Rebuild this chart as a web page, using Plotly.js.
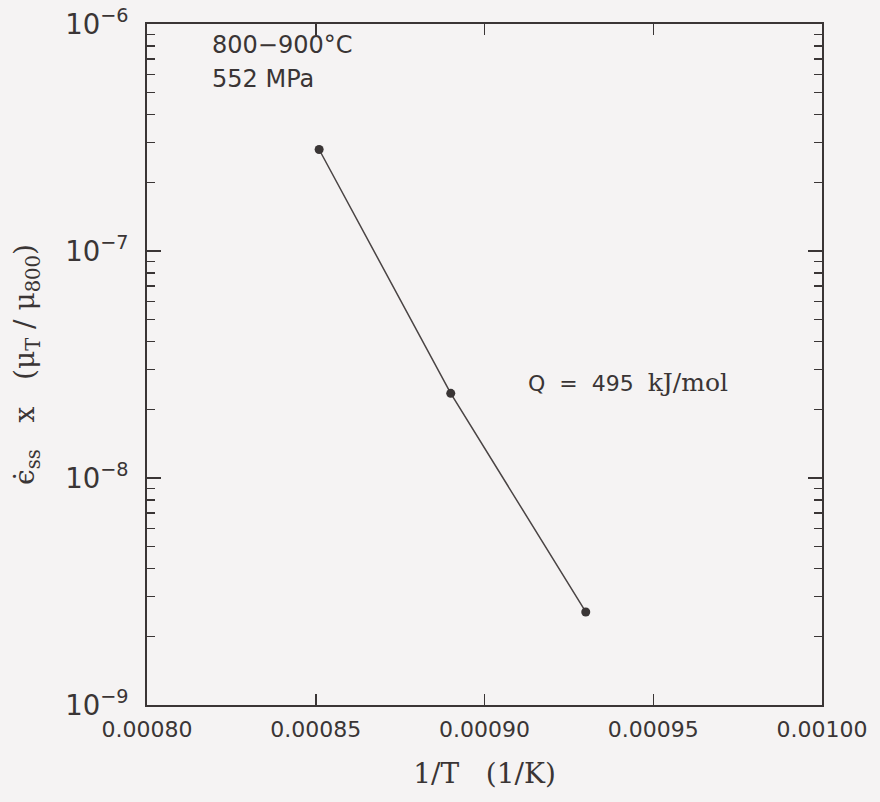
<!DOCTYPE html>
<html>
<head>
<meta charset="utf-8">
<script src="https://cdn.plot.ly/plotly-3.0.1.min.js"></script>
<style>html,body{margin:0;padding:0;background:#f5f3f3;}</style>
</head>
<body>
<div id="chart" style="width:880px;height:802px;"></div>
<script>
// Data
const invT = [0.000851, 0.000890, 0.000930];          // 1/T (1/K)
const rate = [2.8e-7, 2.36e-8, 2.57e-9];              // eps_ss x (mu_T/mu_800)
const xRange = [0.00080, 0.00100];
const xMajorStep = 0.00005;
const yRangeExp = [-9, -6];
const labelCond = ['800−900°C', '552 MPa'];
const labelQ = ['Q  =  495', 'kJ/mol'];

const ink = '#3a3535';
const bg = '#f5f3f3';
const sans = 'DejaVu Sans, sans-serif';
const serif = 'DejaVu Serif, Liberation Serif, serif';

const trace = {
  x: invT, y: rate, type: 'scatter', mode: 'lines+markers',
  line: {color: '#4a4444', width: 1.5},
  marker: {color: ink, size: 9},
  showlegend: false, hoverinfo: 'skip'
};

const layout = {
  width: 880, height: 802,
  margin: {l: 147, r: 58, t: 24, b: 97},
  paper_bgcolor: bg, plot_bgcolor: bg,
  xaxis: {
    range: xRange, tickmode: 'linear', tick0: xRange[0], dtick: xMajorStep, tickformat: '.5f',
    ticks: 'inside', ticklen: 11, tickwidth: 1.5, tickcolor: ink,
    showline: true, linecolor: ink, linewidth: 2, mirror: 'allticks',
    showgrid: false, zeroline: false,
    tickfont: {family: sans, size: 22, color: ink},
    ticklabelstandoff: 4,
    title: {text: '1/T   (1/K)', font: {family: serif, size: 28, color: ink}, standoff: 22}
  },
  yaxis: {
    type: 'log', range: yRangeExp, dtick: 1, exponentformat: 'power',
    ticks: 'inside', ticklen: 14, tickwidth: 1.5, tickcolor: ink,
    minor: {dtick: 'D1', ticks: 'inside', ticklen: 8, tickwidth: 1.5, tickcolor: ink, showgrid: false},
    showline: true, linecolor: ink, linewidth: 2, mirror: 'allticks',
    showgrid: false, zeroline: false,
    tickfont: {family: sans, size: 22, color: ink},
    ticklabelstandoff: 12,
    title: {text: 'ϵ̇<sub>ss</sub>   x   (μ<sub>T</sub> / μ<sub>800</sub>)', font: {family: serif, size: 28, color: ink}, standoff: 22}
  },
  annotations: [
    {xref: 'paper', yref: 'paper', x: 0.094, y: 0.992, xanchor: 'left', yanchor: 'top',
     text: labelCond[0], showarrow: false, font: {family: sans, size: 24, color: ink}},
    {xref: 'paper', yref: 'paper', x: 0.094, y: 0.942, xanchor: 'left', yanchor: 'top',
     text: labelCond[1], showarrow: false, font: {family: sans, size: 24, color: ink}},
    {xref: 'paper', yref: 'paper', x: 0.562, y: 0.474, xanchor: 'left', yanchor: 'middle',
     text: labelQ[0] + '  <span style="font-family:DejaVu Serif, serif;font-size:25px">' + labelQ[1] + '</span>',
     showarrow: false, font: {family: sans, size: 22, color: ink}}
  ]
};

Plotly.newPlot('chart', [trace], layout, {displayModeBar: false, staticPlot: true});
</script>
</body>
</html>
